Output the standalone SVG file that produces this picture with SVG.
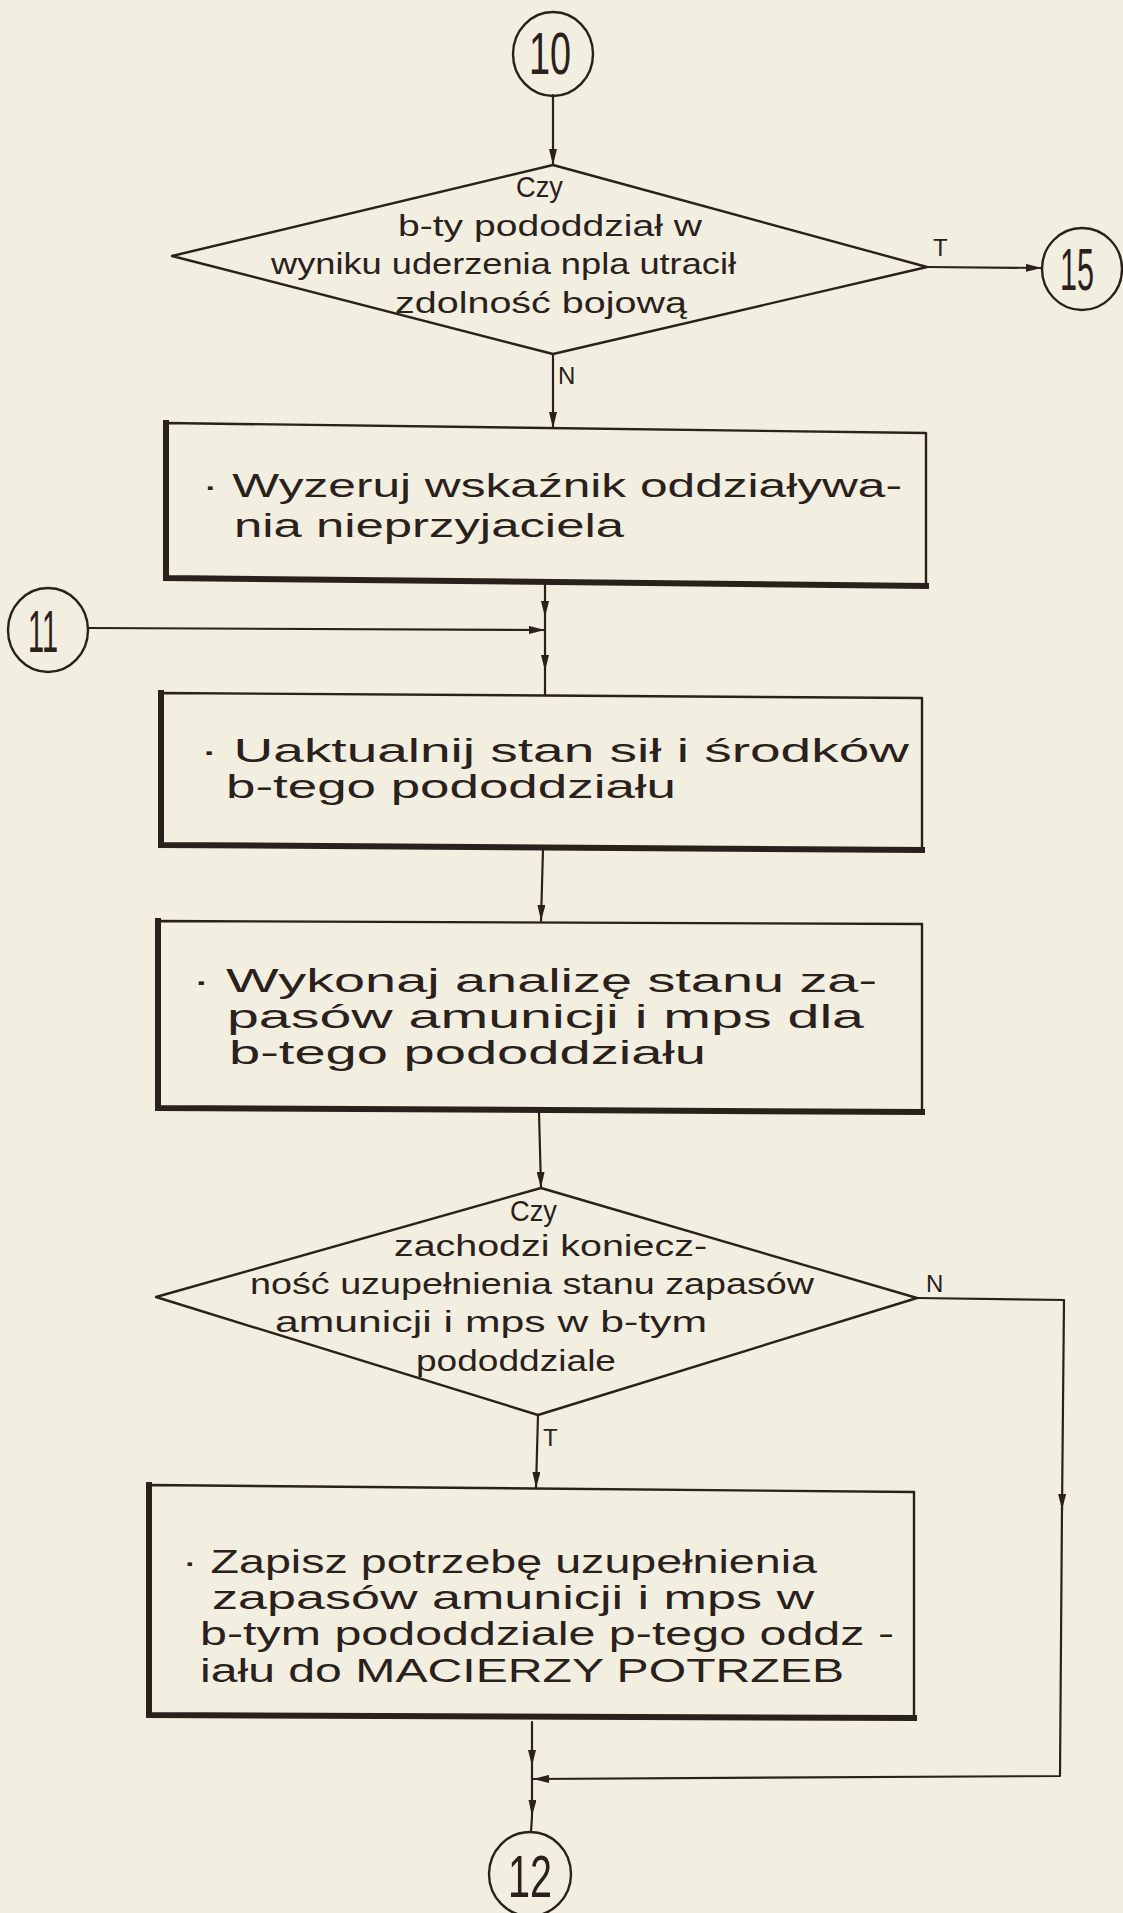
<svg xmlns="http://www.w3.org/2000/svg" width="1123" height="1913" viewBox="0 0 1123 1913">
<style>
.bg{fill:#f2efe1}
.ln{fill:none;stroke:#2a211c;stroke-width:2.2;stroke-linecap:round;stroke-linejoin:round}
.sh{fill:none;stroke:#2a211c;stroke-width:6;stroke-linecap:square}
.box{fill:none;stroke:#2a211c;stroke-width:2.4;stroke-linejoin:round}
.t{font-family:"Liberation Sans",Arial,sans-serif;font-size:34px;fill:#2a211c}
.d{font-family:"Liberation Sans",Arial,sans-serif;font-size:29px;fill:#2a211c}
.lbl{font-family:"Liberation Sans",Arial,sans-serif;font-size:24px;fill:#2a211c}
.num{font-family:"Liberation Sans",Arial,sans-serif;font-size:60px;fill:#2a211c}
</style>
<defs>
<marker id="ah" markerUnits="userSpaceOnUse" markerWidth="16" markerHeight="8" refX="16" refY="4" orient="auto">
<path d="M0,0 L16,4 L0,8 z" fill="#2a211c"/>
</marker>
</defs>
<rect class="bg" x="0" y="0" width="1123" height="1913"/>

<g id="connectors">
<path class="ln" d="M553,95 L553,165" marker-end="url(#ah)"/>
<path class="ln" d="M927,267 L1042,268" marker-end="url(#ah)"/>
<path class="ln" d="M553,354 L553,428" marker-end="url(#ah)"/>
<polyline class="ln" points="545,585 545,617 545,671 545,695" marker-mid="url(#ah)"/>
<path class="ln" d="M88,628 L545,630" marker-end="url(#ah)"/>
<path class="ln" d="M543,849 L541,921" marker-end="url(#ah)"/>
<path class="ln" d="M539,1112 L541,1188" marker-end="url(#ah)"/>
<path class="ln" d="M538,1415 L536,1488" marker-end="url(#ah)"/>
<path class="ln" d="M917,1298 L1064,1300 L1062,1510" marker-end="url(#ah)"/>
<path class="ln" d="M1062,1508 L1060,1776 L533,1779" marker-end="url(#ah)"/>
<polyline class="ln" points="532,1722 532,1766 532,1816 531,1832" marker-mid="url(#ah)"/>
<text class="lbl" x="933" y="256">T</text>
<text class="lbl" x="558" y="384">N</text>
<text class="lbl" x="926" y="1292">N</text>
<text class="lbl" x="543" y="1446">T</text>
</g>

<g id="c10">
<ellipse class="box" cx="553" cy="54" rx="40" ry="42"/>
<text class="num" x="529" y="74" textLength="42" lengthAdjust="spacingAndGlyphs">10</text>
</g>

<g id="d1">
<polygon class="box" points="553,165 927,267 553,354 172,256"/>
<text class="d" x="516" y="197" textLength="47" lengthAdjust="spacingAndGlyphs">Czy</text>
<text class="d" x="398" y="236" textLength="304" lengthAdjust="spacingAndGlyphs">b-ty pododdział w</text>
<text class="d" x="271" y="274" textLength="465" lengthAdjust="spacingAndGlyphs">wyniku uderzenia npla utracił</text>
<text class="d" x="395" y="313" textLength="292" lengthAdjust="spacingAndGlyphs">zdolność bojową</text>
</g>

<g id="c15">
<ellipse class="box" cx="1082" cy="269" rx="40" ry="41"/>
<text class="num" x="1060" y="290" textLength="34" lengthAdjust="spacingAndGlyphs">15</text>
</g>

<g id="r1">
<polygon class="box" points="166,423 926,433 926,586 166,578"/>
<path class="sh" d="M166,423 L166,578 L926,586"/>
<text class="t" x="202" y="497" textLength="700" lengthAdjust="spacingAndGlyphs">· Wyzeruj wskaźnik oddziaływa-</text>
<text class="t" x="234" y="537" textLength="390" lengthAdjust="spacingAndGlyphs">nia nieprzyjaciela</text>
</g>

<g id="c11">
<ellipse class="box" cx="48" cy="630" rx="40" ry="42"/>
<text class="num" x="28" y="652" textLength="30" lengthAdjust="spacingAndGlyphs">11</text>
</g>

<g id="r2">
<polygon class="box" points="161,693 922,698 922,850 161,845"/>
<path class="sh" d="M161,693 L161,845 L922,850"/>
<text class="t" x="200" y="762" textLength="709" lengthAdjust="spacingAndGlyphs">· Uaktualnij stan sił i środków</text>
<text class="t" x="226" y="798" textLength="450" lengthAdjust="spacingAndGlyphs">b-tego pododdziału</text>
</g>

<g id="r3">
<polygon class="box" points="158,921 922,924 922,1112 158,1108"/>
<path class="sh" d="M158,921 L158,1108 L922,1112"/>
<text class="t" x="192" y="992" textLength="685" lengthAdjust="spacingAndGlyphs">· Wykonaj analizę stanu za-</text>
<text class="t" x="227" y="1028" textLength="637" lengthAdjust="spacingAndGlyphs">pasów amunicji i mps dla</text>
<text class="t" x="229" y="1064" textLength="477" lengthAdjust="spacingAndGlyphs">b-tego pododdziału</text>
</g>

<g id="d2">
<polygon class="box" points="541,1188 917,1298 538,1415 156,1297"/>
<text class="d" x="510" y="1221" textLength="47" lengthAdjust="spacingAndGlyphs">Czy</text>
<text class="d" x="394" y="1256" textLength="313" lengthAdjust="spacingAndGlyphs">zachodzi koniecz-</text>
<text class="d" x="250" y="1294" textLength="564" lengthAdjust="spacingAndGlyphs">ność uzupełnienia stanu zapasów</text>
<text class="d" x="275" y="1332" textLength="432" lengthAdjust="spacingAndGlyphs">amunicji i mps w b-tym</text>
<text class="d" x="416" y="1371" textLength="200" lengthAdjust="spacingAndGlyphs">pododdziale</text>
</g>

<g id="r4">
<polygon class="box" points="149,1485 914,1492 914,1718 149,1715"/>
<path class="sh" d="M149,1485 L149,1715 L914,1718"/>
<text class="t" x="182" y="1573" textLength="635" lengthAdjust="spacingAndGlyphs">· Zapisz potrzebę uzupełnienia</text>
<text class="t" x="212" y="1609" textLength="602" lengthAdjust="spacingAndGlyphs">zapasów amunicji i mps w</text>
<text class="t" x="200" y="1645" textLength="694" lengthAdjust="spacingAndGlyphs">b-tym pododdziale p-tego oddz -</text>
<text class="t" x="200" y="1682" textLength="644" lengthAdjust="spacingAndGlyphs">iału do MACIERZY POTRZEB</text>
</g>

<g id="c12">
<ellipse class="box" cx="530" cy="1874" rx="41" ry="42"/>
<text class="num" x="508" y="1897" textLength="44" lengthAdjust="spacingAndGlyphs">12</text>
</g>
</svg>
